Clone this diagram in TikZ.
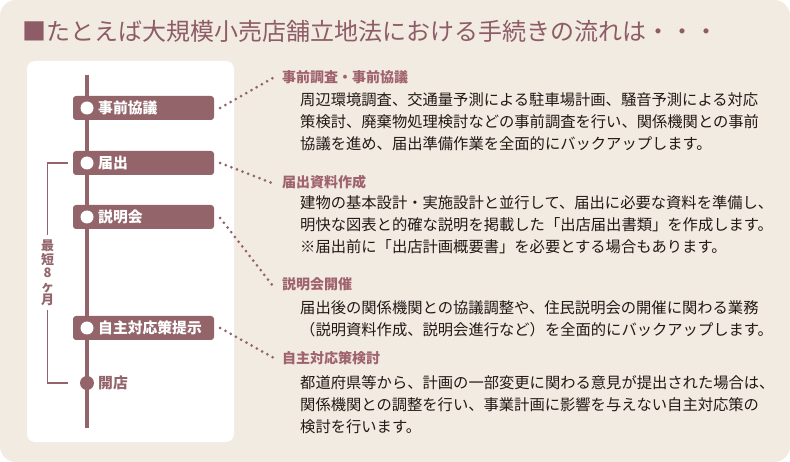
\documentclass[tikz,border=0pt]{standalone}
\usepackage{fontspec}
\setmainfont{Noto Sans CJK JP}
\usetikzlibrary{calc}
\definecolor{bgbeige}{HTML}{F1EBE2}
\definecolor{mauve}{HTML}{93656B}
\definecolor{titlec}{HTML}{8E5C66}
\definecolor{headc}{HTML}{A0636E}
\definecolor{bodyc}{HTML}{231815}
\tikzset{
  stepbox/.style={fill=mauve, rounded corners=3pt, minimum width=141pt, minimum height=24pt, inner sep=0pt},
  wdot/.style={circle, fill=white, minimum size=13pt, inner sep=0pt},
  mdot/.style={circle, fill=mauve, minimum size=14pt, inner sep=0pt},
  boxlabel/.style={anchor=west, inner sep=0pt, text=white, font=\fontsize{14.8}{15}\selectfont\bfseries, text height=13pt, text depth=1.7pt},
  heading/.style={anchor=west, inner sep=0pt, text=headc, font=\fontsize{14}{15}\selectfont\bfseries, text height=12.3pt, text depth=1.7pt},
  body/.style={anchor=west, inner sep=0pt, text=bodyc, font=\fontsize{15.3}{16}\selectfont, text height=13.5pt, text depth=1.8pt},
  dotline/.style={draw=mauve, line width=3pt, line cap=round, dash pattern=on 0pt off 6pt},
  bracket/.style={draw=mauve, line width=1.4pt},
}
\begin{document}
\begin{tikzpicture}[x=1pt, y=-1pt]
\useasboundingbox (0,0) rectangle (790,462);
\fill[white] (0,0) rectangle (790,462);
\fill[bgbeige, rounded corners=16pt] (0,0) rectangle (790,462);
% title
\node[anchor=west, inner sep=0pt, text=titlec, font=\fontsize{24}{25}\selectfont, text height=21pt, text depth=3pt] (title) at (22,32) {■たとえば大規模小売店舗立地法における手続きの流れは・・・};
% white panel
\fill[white, rounded corners=8pt] (27,61) rectangle (234,442);
% main vertical line
\coordinate (ltop) at (87,75);
\coordinate (lbot) at (87,428);
\draw[mauve, line width=4pt] (ltop) -- (lbot);
% step boxes
\node[stepbox] (b1) at (143.5,108) {};
\node[stepbox] (b2) at (143.5,163) {};
\node[stepbox] (b3) at (143.5,217) {};
\node[stepbox] (b4) at (143.5,328) {};
\node[wdot] (d1) at (87,108) {};
\node[wdot] (d2) at (87,163) {};
\node[wdot] (d3) at (87,217) {};
\node[wdot] (d4) at (87,328) {};
\node[mdot] (d5) at (87,383) {};
\node[boxlabel] (t1) at (98,108) {事前協議};
\node[boxlabel] (t2) at (98,163) {届出};
\node[boxlabel] (t3) at (98,217) {説明会};
\node[boxlabel] (t4) at (98,328) {自主対応策提示};
\node[boxlabel, text=mauve] (t5) at (98,383) {開店};
% bracket
\coordinate (k1) at ($(b2.west)+(-5,0)$);
\coordinate (k2) at (47.5,235);
\coordinate (k3) at (47.5,310);
\coordinate (k4) at ($(d5.west)+(-12,0)$);
\draw[bracket] (k1) -| (k2);
\draw[bracket] (k3) |- (k4);
\node[align=center, inner sep=0pt, text=mauve, font=\fontsize{13}{13.4}\selectfont\bfseries] (period) at (47.5,273) {最\\短\\8\\ヶ\\月};
% headings
\node[heading] (h1) at (282,77) {事前調査・事前協議};
\node[heading] (h2) at (282,182) {届出資料作成};
\node[heading] (h3) at (282,284) {説明会開催};
\node[heading] (h4) at (282,358) {自主対応策検討};
% bodies
\node[body] (p11) at (300,100) {周辺環境調査、交通量予測による駐車場計画、騒音予測による対応};
\node[body] (p12) at (300,122) {策検討、廃棄物処理検討などの事前調査を行い、関係機関との事前};
\node[body] (p13) at (300,144) {協議を進め、届出準備作業を全面的にバックアップします。};
\node[body] (p21) at (300,203) {建物の基本設計・実施設計と並行して、届出に必要な資料を準備し、};
\node[body] (p22) at (300,225) {明快な図表と的確な説明を掲載した「出店届出書類」を作成します。};
\node[body] (p23) at (300,247) {※届出前に「出店計画概要書」を必要とする場合もあります。};
\node[body] (p31) at (300,308) {届出後の関係機関との協議調整や、住民説明会の開催に関わる業務};
\node[body] (p32) at (300,330) {（説明資料作成、説明会進行など）を全面的にバックアップします。};
\node[body] (p41) at (300,383) {都道府県等から、計画の一部変更に関わる意見が提出された場合は、};
\node[body] (p42) at (300,405) {関係機関との調整を行い、事業計画に影響を与えない自主対応策の};
\node[body] (p43) at (300,427) {検討を行います。};
% dotted connectors
\draw[dotline] ($(b1.east)+(6,0)$) -- ($(h1.west)+(-9,1)$);
\draw[dotline] ($(b2.east)+(6,0)$) -- ($(h2.west)+(-10,1)$);
\draw[dotline] ($(b3.east)+(6,1)$) -- ($(h3.west)+(-9,2)$);
\draw[dotline] ($(b4.east)+(6,0)$) -- ($(h4.west)+(-8,0)$);
\end{tikzpicture}
\end{document}
